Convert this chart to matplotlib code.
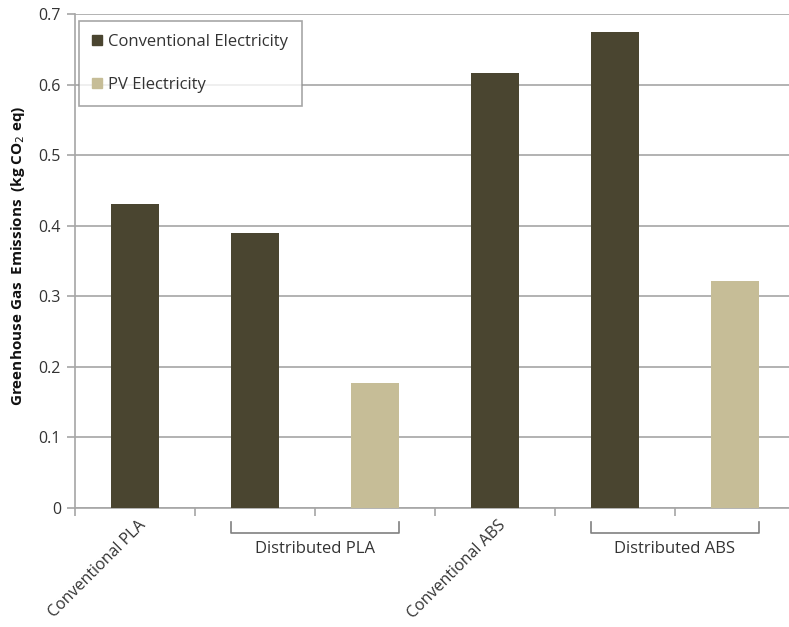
import numpy as np
import matplotlib.pyplot as plt
import matplotlib.transforms as mtransforms
from matplotlib.patches import Patch

plt.rcParams['font.family'] = ['Open Sans', 'DejaVu Sans']

groups = ["Conventional PLA", "Distributed PLA", "Conventional ABS", "Distributed ABS"]
conventional = [0.431, 0.389, 0.617, 0.675]
pv = [None, 0.177, None, 0.321]
yticks = [0, 0.1, 0.2, 0.3, 0.4, 0.5, 0.6, 0.7]
ytick_labels = ["0", "0.1", "0.2", "0.3", "0.4", "0.5", "0.6", "0.7"]

DARK = '#4a4530'
LIGHT = '#c6bd97'
GRID = '#a6a6a6'
TEXT = '#333333'

W, H = 789, 627
fig = plt.figure(figsize=(W / 100, H / 100), dpi=100)
ax = fig.add_axes([75 / W, (H - 508) / H, (795 - 75) / W, (508 - 14) / H])

# lay out slots: one per bar
slot = 0
conv_x, pv_x, group_slots = [], [], []
for c, p in zip(conventional, pv):
    s = [slot]
    conv_x.append(slot)
    slot += 1
    if p is not None:
        pv_x.append(slot)
        s.append(slot)
        slot += 1
    group_slots.append(s)
pv_vals = [p for p in pv if p is not None]

bw = 0.4
ax.bar(conv_x, conventional, width=bw, color=DARK, zorder=3)
ax.bar(pv_x, pv_vals, width=bw, color=LIGHT, zorder=3)

ax.set_xlim(-0.5, slot - 0.5)
ax.set_ylim(0, 0.7)
ax.set_yticks(yticks)
ax.set_yticklabels(ytick_labels, fontsize=11.5, color=TEXT)
ax.yaxis.grid(True, color=GRID, linewidth=1.2, zorder=0)
ax.set_axisbelow(True)
ax.set_xticks(np.arange(slot + 1) - 0.5)
ax.set_xticklabels([])
ax.tick_params(axis='x', length=6, color=GRID, width=1.2)
ax.tick_params(axis='y', length=6, color=GRID, width=1.2, pad=4)
for side in ['top', 'right']:
    ax.spines[side].set_visible(False)
for side in ['left', 'bottom']:
    ax.spines[side].set_color(GRID)
    ax.spines[side].set_linewidth(1.2)

trans = mtransforms.blended_transform_factory(ax.transData, ax.transAxes)
px = 1 / (508 - 14)  # axes fraction per pixel vertically
for name, s in zip(groups, group_slots):
    if len(s) == 1:
        ax.annotate(name, xy=(s[0], 0), xycoords=trans, xytext=(2, -7),
                    textcoords='offset points', rotation=45, ha='right', va='top',
                    rotation_mode='anchor', fontsize=11.5, color=TEXT)
    else:
        x0, x1 = s[0] - bw / 2, s[-1] + bw / 2
        ytop, ybot = -14 * px, -25 * px
        ax.plot([x0, x0, x1, x1], [ytop, ybot, ybot, ytop], transform=trans,
                color='#808080', linewidth=1.2, clip_on=False)
        ax.text((x0 + x1) / 2, -41 * px, name, transform=trans, ha='center',
                va='center', fontsize=12, color=TEXT)

handles = [Patch(color=DARK, label='Conventional Electricity'),
           Patch(color=LIGHT, label='PV Electricity')]
leg = ax.legend(handles=handles, loc='upper left', bbox_to_anchor=(4 / 720, 1 - 7 / 494),
                fontsize=12, frameon=True, fancybox=False, handlelength=0.55,
                handleheight=0.55, handletextpad=0.4, labelspacing=1.6,
                borderpad=0.8, borderaxespad=0)
leg.get_frame().set_edgecolor('#909090')
leg.get_frame().set_linewidth(1.2)
for t in leg.get_texts():
    t.set_color(TEXT)

fig.text(18 / W, 1 - 256 / H, r'Greenhouse Gas  Emissions  (kg CO$_2$ eq)',
         rotation=90, ha='center', va='center', fontsize=11, fontweight='bold',
         color='#111111')

fig.savefig('out.png', dpi=100)
